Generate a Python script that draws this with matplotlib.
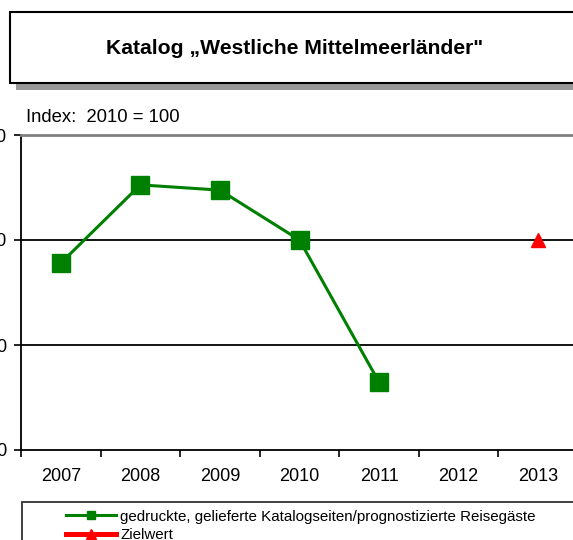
import numpy as np
import matplotlib
matplotlib.use("Agg")
import matplotlib.pyplot as plt
from matplotlib.patches import Rectangle
from matplotlib.lines import Line2D
from matplotlib.legend_handler import HandlerLine2D

plt.rcParams['font.family'] = ['Liberation Sans', 'DejaVu Sans']

years = ['2007', '2008', '2009', '2010', '2011', '2012', '2013']
katalog = [95.6, 110.5, 109.5, 100.0, 72.9, np.nan, np.nan]
zielwert = [np.nan, np.nan, np.nan, np.nan, np.nan, np.nan, 100.0]
yticks = [60, 80, 100, 120]

W, H = 573, 540
fig = plt.figure(figsize=(W / 100, H / 100), dpi=100)

# title box with shadow
shadow = Rectangle((16 / W, 1 - 90 / H), 1.0, 78 / H, transform=fig.transFigure,
                   facecolor='#999999', edgecolor='none', zorder=0)
box = Rectangle((10 / W, 1 - 83 / H), 1.0, 71 / H, transform=fig.transFigure,
                facecolor='white', edgecolor='black', linewidth=1.5, zorder=1)
fig.patches.extend([shadow, box])
fig.text(295 / W, 1 - 48 / H, 'Katalog \u201eWestliche Mittelmeerländer"',
         ha='center', va='center', fontsize=15.2, fontweight='bold')

ax = fig.add_axes([21 / W, 1 - 450 / H, 557 / W, 315 / H])
x = np.arange(len(years))
ax.plot(x, katalog, color='#008000', linewidth=2.2, marker='s', markersize=13,
        zorder=3, clip_on=False)
ax.plot(x, zielwert, color='red', linestyle='none', marker='^', markersize=9.5,
        zorder=3, clip_on=False)

ax.set_xlim(-0.5, 6.5)
ax.set_ylim(60, 120)
ax.set_yticks(yticks)
ax.set_yticklabels([str(v) for v in yticks])
ax.set_xticks(x)
ax.set_xticklabels(years)
ax.set_xticks(np.arange(-0.5, 7, 1), minor=True)
ax.tick_params(axis='x', which='major', length=0, labelsize=13, pad=13)
ax.tick_params(axis='x', which='minor', length=5, width=1.2, direction='out')
ax.tick_params(axis='y', length=5, width=1.2, direction='out', labelsize=13, pad=5)
for v in [80, 100]:
    ax.axhline(v, color='black', linewidth=1.3, zorder=1)
ax.spines['right'].set_visible(False)
ax.spines['top'].set_color('#808080')
ax.spines['top'].set_linewidth(2)
ax.spines['left'].set_linewidth(1.3)
ax.spines['bottom'].set_linewidth(1.3)

fig.text(26 / W, 1 - 118 / H, 'Index:  2010 = 100', ha='left', va='center', fontsize=13.3)

handles = [
    Line2D([], [], color='#008000', linewidth=2.2, marker='s', markersize=6),
    Line2D([], [], color='red', linewidth=3.6, marker='^', markersize=7.5),
]
labels = ['gedruckte, gelieferte Katalogseiten/prognostizierte Reisegäste', 'Zielwert']
hmap = {h: HandlerLine2D(xpad=2.42) for h in handles}
leg = fig.legend(handles, labels, loc='upper left', mode='expand',
                 bbox_to_anchor=(22 / W, 0, 1.0, 1 - 502 / H),
                 handler_map=hmap,
                 fontsize=10.9, frameon=True, fancybox=False, handlelength=5.7,
                 handletextpad=0.3, borderpad=0.5, labelspacing=0.3,
                 borderaxespad=0)
leg.get_frame().set_edgecolor('black')
leg.get_frame().set_linewidth(1.3)

fig.savefig('out.png', dpi=100)
